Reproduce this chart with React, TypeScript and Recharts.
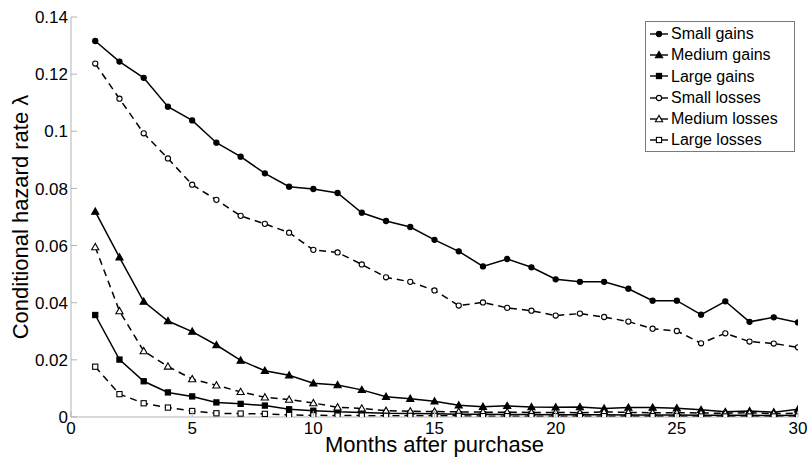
import React from "react";
import { LineChart, Line, XAxis, YAxis, Legend } from "recharts";

const months = [1,2,3,4,5,6,7,8,9,10,11,12,13,14,15,16,17,18,19,20,21,22,23,24,25,26,27,28,29,30];

const smallGains = [0.1316,0.1244,0.1187,0.1086,0.1038,0.0960,0.0911,0.0853,0.0806,0.0798,0.0784,0.0715,0.0686,0.0665,0.0620,0.0580,0.0527,0.0553,0.0524,0.0482,0.0473,0.0473,0.0449,0.0407,0.0407,0.0358,0.0405,0.0333,0.0349,0.0331];
const mediumGains = [0.0719,0.0559,0.0404,0.0336,0.0299,0.0252,0.0198,0.0162,0.0146,0.0118,0.0112,0.0095,0.0071,0.0064,0.0055,0.0041,0.0036,0.0039,0.0035,0.0034,0.0035,0.0030,0.0033,0.0033,0.0031,0.0025,0.0018,0.0021,0.0017,0.0027];
const largeGains = [0.0357,0.0201,0.0125,0.0086,0.0072,0.0051,0.0046,0.0040,0.0027,0.0022,0.0018,0.0016,0.0013,0.0012,0.0011,0.0010,0.0010,0.0009,0.0009,0.0008,0.0008,0.0008,0.0007,0.0007,0.0007,0.0006,0.0006,0.0006,0.0005,0.0006];
const smallLosses = [0.1237,0.1114,0.0993,0.0905,0.0813,0.0760,0.0704,0.0676,0.0645,0.0585,0.0576,0.0534,0.0489,0.0473,0.0443,0.0390,0.0401,0.0382,0.0372,0.0355,0.0362,0.0350,0.0334,0.0309,0.0301,0.0258,0.0293,0.0264,0.0257,0.0244];
const mediumLosses = [0.0595,0.0371,0.0231,0.0177,0.0133,0.0111,0.0088,0.0069,0.0061,0.0049,0.0034,0.0030,0.0022,0.0020,0.0019,0.0018,0.0017,0.0017,0.0016,0.0016,0.0015,0.0018,0.0016,0.0015,0.0015,0.0014,0.0013,0.0015,0.0012,0.0013];
const largeLosses = [0.0176,0.0080,0.0048,0.0033,0.0021,0.0013,0.0012,0.0011,0.0007,0.0006,0.0005,0.0005,0.0004,0.0004,0.0004,0.0004,0.0003,0.0003,0.0003,0.0003,0.0003,0.0003,0.0003,0.0003,0.0003,0.0002,0.0002,0.0002,0.0002,0.0002];

const xTicks = [0, 5, 10, 15, 20, 25, 30];
const yTicks = [0, 0.02, 0.04, 0.06, 0.08, 0.1, 0.12, 0.14];
const yTickLabels = ["0", "0.02", "0.04", "0.06", "0.08", "0.1", "0.12", "0.14"];

const seriesNames = ["Small gains", "Medium gains", "Large gains", "Small losses", "Medium losses", "Large losses"];
const seriesKeys = ["smallGains", "mediumGains", "largeGains", "smallLosses", "mediumLosses", "largeLosses"];
const seriesValues = [smallGains, mediumGains, largeGains, smallLosses, mediumLosses, largeLosses];
const seriesShapes = ["circle", "triangle", "square", "circle", "triangle", "square"];
const seriesFilled = [true, true, true, false, false, false];

const data = months.map((m, i) => {
  const row: any = { month: m };
  seriesKeys.forEach((k, j) => { row[k] = seriesValues[j][i]; });
  return row;
});

const FONT = "'Liberation Sans', Arial, Helvetica, sans-serif";
const FRAME = "#b3b3b3";

function Marker({ cx, cy, shape, filled }: any) {
  if (cx == null || cy == null) return null;
  const fill = filled ? "#000" : "#fff";
  if (shape === "circle") {
    return <circle cx={cx} cy={cy} r={2.6} fill={fill} stroke="#000" strokeWidth={1.1} />;
  }
  if (shape === "triangle") {
    const s = 3.6;
    return (
      <polygon
        points={`${cx},${cy - s} ${cx - s},${cy + s * 0.75} ${cx + s},${cy + s * 0.75}`}
        fill={fill}
        stroke="#000"
        strokeWidth={1.1}
      />
    );
  }
  const h = 2.6;
  return <rect x={cx - h} y={cy - h} width={h * 2} height={h * 2} fill={fill} stroke="#000" strokeWidth={1.1} />;
}

const makeDot = (shape: string, filled: boolean) => (props: any) => (
  <Marker key={`${shape}-${filled}-${props.index}`} cx={props.cx} cy={props.cy} shape={shape} filled={filled} />
);

const BottomTick = (props: any) => {
  const { x, y, payload } = props;
  const axisY = y - 4;
  return (
    <g>
      <line x1={x} y1={axisY} x2={x} y2={axisY - 6} stroke={FRAME} />
      <text x={x} y={y} dy="0.78em" textAnchor="middle" fontSize={17} fontFamily={FONT} fill="#000">
        {payload.value}
      </text>
    </g>
  );
};

const LeftTick = (props: any) => {
  const { x, y, payload } = props;
  const axisX = x + 3;
  const label = yTickLabels[yTicks.indexOf(payload.value)] ?? String(payload.value);
  return (
    <g>
      <line x1={axisX} y1={y} x2={axisX + 6} y2={y} stroke={FRAME} />
      <text x={x} y={y} dy="0.36em" textAnchor="end" fontSize={17} fontFamily={FONT} fill="#000">
        {label}
      </text>
    </g>
  );
};

const TopTick = (props: any) => {
  const { x, y } = props;
  return <line x1={x} y1={y} x2={x} y2={y + 6} stroke={FRAME} />;
};

const RightTick = (props: any) => {
  const { x, y } = props;
  return <line x1={x} y1={y} x2={x - 6} y2={y} stroke={FRAME} />;
};

const LegendContent = (props: any) => {
  const payload = [...(props.payload || [])].sort(
    (a: any, b: any) => seriesKeys.indexOf(a.dataKey) - seriesKeys.indexOf(b.dataKey)
  );
  return (
    <div
      style={{
        border: "1px solid #7a7a7a",
        background: "#fff",
        padding: "1px 2px 1px 2px",
        fontFamily: FONT,
        fontSize: 16,
        lineHeight: "21.3px",
        color: "#000",
        boxSizing: "border-box",
        width: 150,
        height: 131,
      }}
    >
      {payload.map((entry: any) => {
        const idx = seriesKeys.indexOf(entry.dataKey);
        return (
          <div key={entry.dataKey} style={{ display: "flex", alignItems: "center", whiteSpace: "nowrap", height: 21.3 }}>
            <svg width={22} height={12} style={{ marginRight: 1 }}>
              <line x1={2} y1={6} x2={20} y2={6} stroke="#000" strokeWidth={1.4} />
              <Marker cx={11} cy={6} shape={seriesShapes[idx]} filled={seriesFilled[idx]} />
            </svg>
            <span>{seriesNames[idx]}</span>
          </div>
        );
      })}
    </div>
  );
};

export default function App() {
  return (
    <div style={{ position: "absolute", left: 0, top: 0, width: 808, height: 459, background: "#fff" }}>
      <LineChart
        width={808}
        height={459}
        data={data}
        margin={{ top: 17, right: 10, bottom: 0, left: 0 }}
        style={{ fontFamily: FONT }}
      >
        <XAxis
          dataKey="month"
          type="number"
          domain={[0, 30]}
          ticks={xTicks}
          allowDataOverflow
          height={42}
          stroke={FRAME}
          tickLine={false}
          tickSize={0}
          tickMargin={4}
          tick={<BottomTick />}
          label={{ value: "Months after purchase", position: "insideBottom", offset: 7, fontSize: 22, fontFamily: FONT, fill: "#000" }}
        />
        <XAxis
          xAxisId="top"
          orientation="top"
          dataKey="month"
          type="number"
          domain={[0, 30]}
          ticks={xTicks}
          height={0}
          stroke={FRAME}
          tickLine={false}
          tickSize={0}
          tickMargin={0}
          tick={<TopTick />}
        />
        <YAxis
          type="number"
          domain={[0, 0.14]}
          ticks={yTicks}
          allowDataOverflow
          width={71}
          stroke={FRAME}
          tickLine={false}
          tickSize={0}
          tickMargin={3}
          tick={<LeftTick />}
          label={{ value: "Conditional hazard rate λ", angle: -90, position: "insideLeft", offset: 20, fontSize: 22, fontFamily: FONT, fill: "#000", style: { textAnchor: "middle" } }}
        />
        <YAxis
          yAxisId="right"
          orientation="right"
          type="number"
          domain={[0, 0.14]}
          ticks={yTicks}
          width={0}
          stroke={FRAME}
          tickLine={false}
          tickSize={0}
          tickMargin={0}
          tick={<RightTick />}
        />
        <Legend
          layout="vertical"
          align="center"
          verticalAlign="middle"
          wrapperStyle={{ left: 645, top: 21, width: 150 }}
          content={<LegendContent />}
        />
        {seriesKeys.map((k, j) => (
          <Line
            key={k}
            dataKey={k}
            name={seriesNames[j]}
            type="linear"
            stroke="#000"
            strokeWidth={1.5}
            strokeDasharray={seriesFilled[j] ? undefined : "7 5"}
            dot={makeDot(seriesShapes[j], seriesFilled[j])}
            activeDot={false}
            isAnimationActive={false}
          />
        ))}
      </LineChart>
    </div>
  );
}
